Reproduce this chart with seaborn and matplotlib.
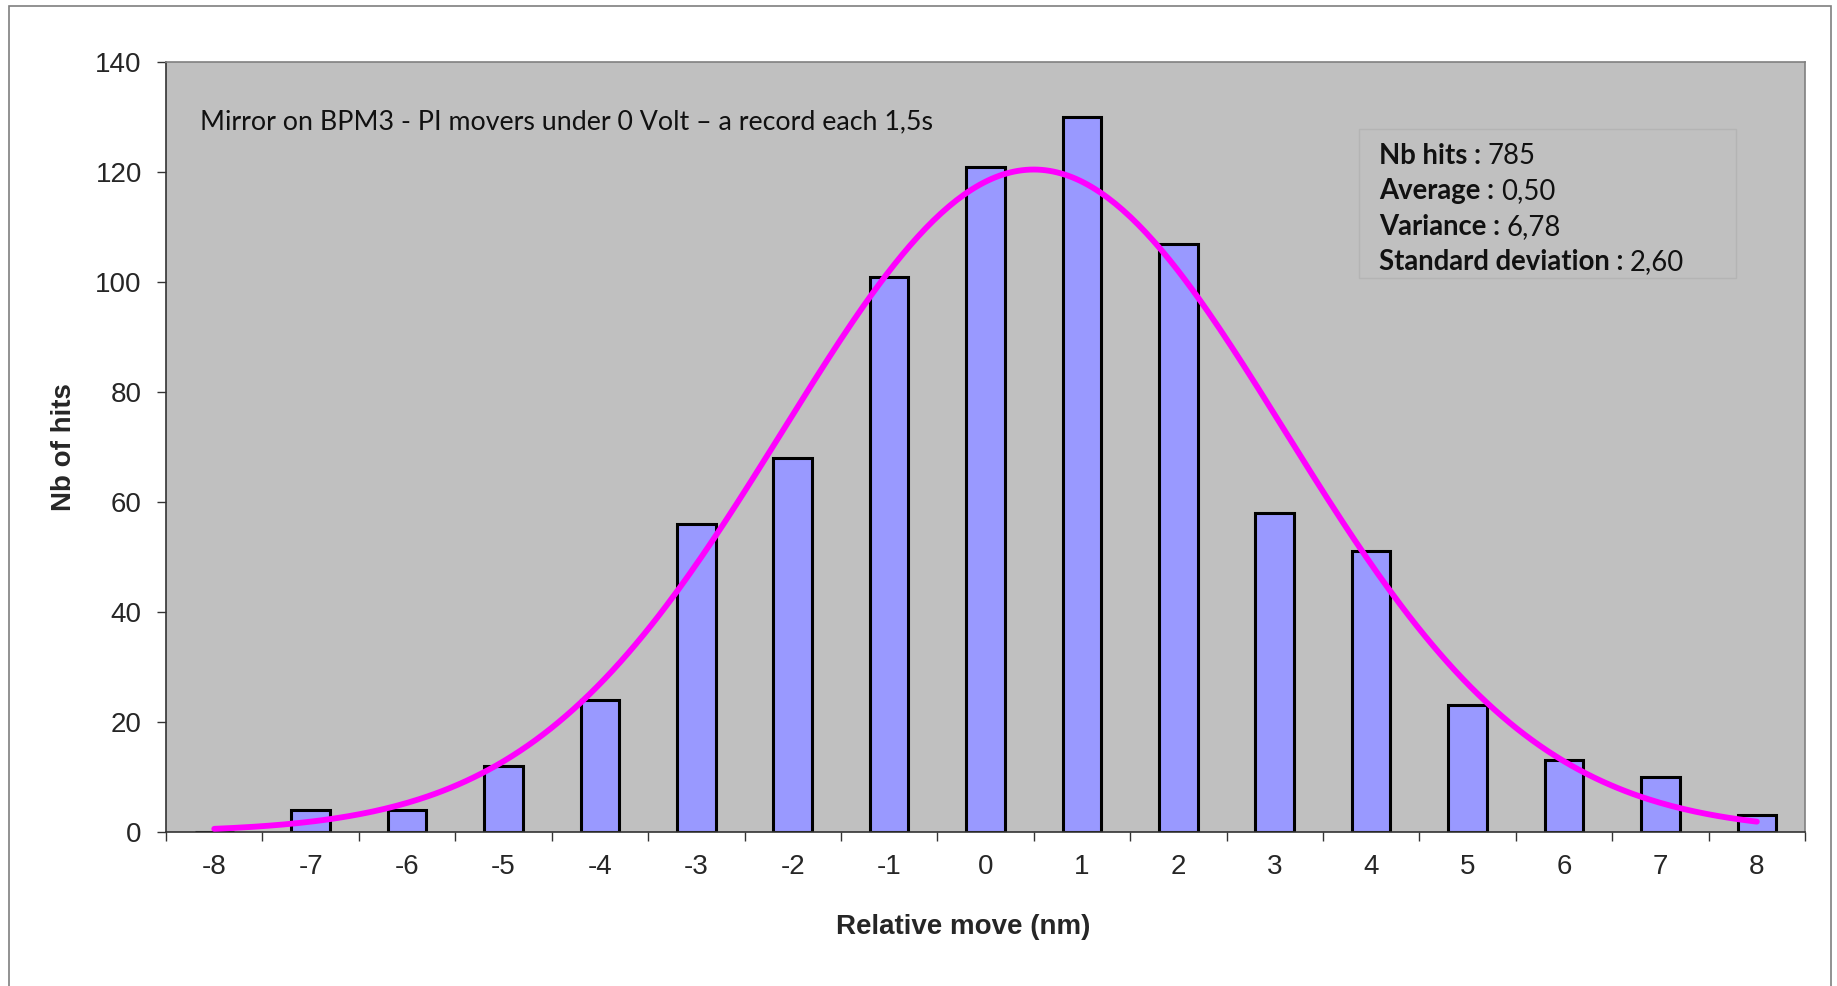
import numpy as np
import pandas as pd
import seaborn as sns
import matplotlib
matplotlib.use("Agg")
import matplotlib.pyplot as plt
from matplotlib.patches import Rectangle

# Histogram of relative moves (nm) and number of hits per bin
moves = [-8, -7, -6, -5, -4, -3, -2, -1, 0, 1, 2, 3, 4, 5, 6, 7, 8]
hits = [0, 4, 4, 12, 24, 56, 68, 101, 121, 130, 107, 58, 51, 23, 13, 10, 3]

# Summary statistics shown in the box
nb_hits = 785
average = 0.50
variance = 6.78
std_dev = 2.60

title_text = "Mirror on BPM3 - PI movers under 0 Volt \u2013 a record each 1,5s"
stat_labels = ["Nb hits : ", "Average : ", "Variance : ", "Standard deviation : "]
stat_values = ["785", "0,50", "6,78", "2,60"]

sns.set_style("white")
plt.rcParams["font.family"] = ["Liberation Sans", "DejaVu Sans"]

fig = plt.figure(figsize=(18.37, 9.86), dpi=100)
ax = fig.add_axes([0.0904, 0.1562, 0.8922, 0.7809])
ax.set_facecolor("#C0C0C0")

df = pd.DataFrame({"move": moves, "hits": hits})
sns.barplot(data=df, x="move", y="hits", native_scale=True, width=0.4,
            color="#9999FF", saturation=1, edgecolor="black", linewidth=2.2,
            ax=ax, zorder=2)

# Normal curve scaled to the total count (bin width 1)
xs = np.linspace(moves[0], moves[-1], 400)
ys = nb_hits / (std_dev * np.sqrt(2 * np.pi)) * np.exp(-0.5 * ((xs - average) / std_dev) ** 2)
sns.lineplot(x=xs, y=ys, color="#FF00FF", linewidth=4.2, ax=ax, zorder=3,
             solid_capstyle="round")

ax.set_xlim(-8.5, 8.5)
ax.set_ylim(0, 140)
ax.set_yticks(range(0, 141, 20))
ax.set_xticks(moves)
ax.set_xticklabels([str(m) for m in moves])
ax.set_xticks(np.arange(-8.5, 8.6, 1.0), minor=True)

ax.tick_params(axis="x", which="major", length=0, pad=16, labelsize=20)
ax.tick_params(axis="x", which="minor", length=6.5, width=1.0, color="#333333",
               direction="out", bottom=True)
ax.tick_params(axis="y", which="major", length=6.5, width=1.0, color="#333333",
               direction="out", left=True, pad=11, labelsize=20)

for side in ["left", "bottom"]:
    ax.spines[side].set_color("#333333")
    ax.spines[side].set_linewidth(1.2)
for side in ["top", "right"]:
    ax.spines[side].set_color("#808080")
    ax.spines[side].set_linewidth(1.2)
    ax.spines[side].set_visible(True)

ax.set_xlabel("Relative move (nm)", fontsize=20, fontweight="bold")
ax.set_ylabel("Nb of hits", fontsize=20, fontweight="bold")
ax.xaxis.set_label_coords(0.4862, -0.1065)
ax.yaxis.set_label_coords(-0.0543, 0.5)

calib = ["Lato", "DejaVu Sans"]
fig.text(200 / 1837, 1 - 122 / 986, title_text, fontsize=19.3, family=calib,
         va="center", ha="left", color="#111111")

# Statistics box
box = Rectangle((1359 / 1837, 1 - 278 / 986), (1736 - 1359) / 1837, (278 - 129) / 986,
                transform=fig.transFigure, facecolor="#C0C0C0", edgecolor="#B4B4B4",
                linewidth=1.0, zorder=5)
fig.patches.append(box)
renderer = fig.canvas.get_renderer()
line_y = [156, 191, 227, 262]
for lab, val, yy in zip(stat_labels, stat_values, line_y):
    t = fig.text(1379 / 1837, 1 - yy / 986, lab, fontsize=19.8, fontweight="bold",
                 family=calib, va="center", ha="left", color="#111111", zorder=6)
    bb = t.get_window_extent(renderer=renderer)
    fig.text(bb.x1 / fig.bbox.width, 1 - yy / 986, val, fontsize=19.8, family=calib,
             va="center", ha="left", color="#111111", zorder=6)

# Outer frame of the chart
frame = Rectangle((9 / 1837, -0.01), (1831 - 9) / 1837, 1.01 - 6 / 986,
                  transform=fig.transFigure, facecolor="none", edgecolor="#7F7F7F",
                  linewidth=1.2)
fig.patches.append(frame)

fig.savefig("out.png", dpi=100, facecolor="white")
